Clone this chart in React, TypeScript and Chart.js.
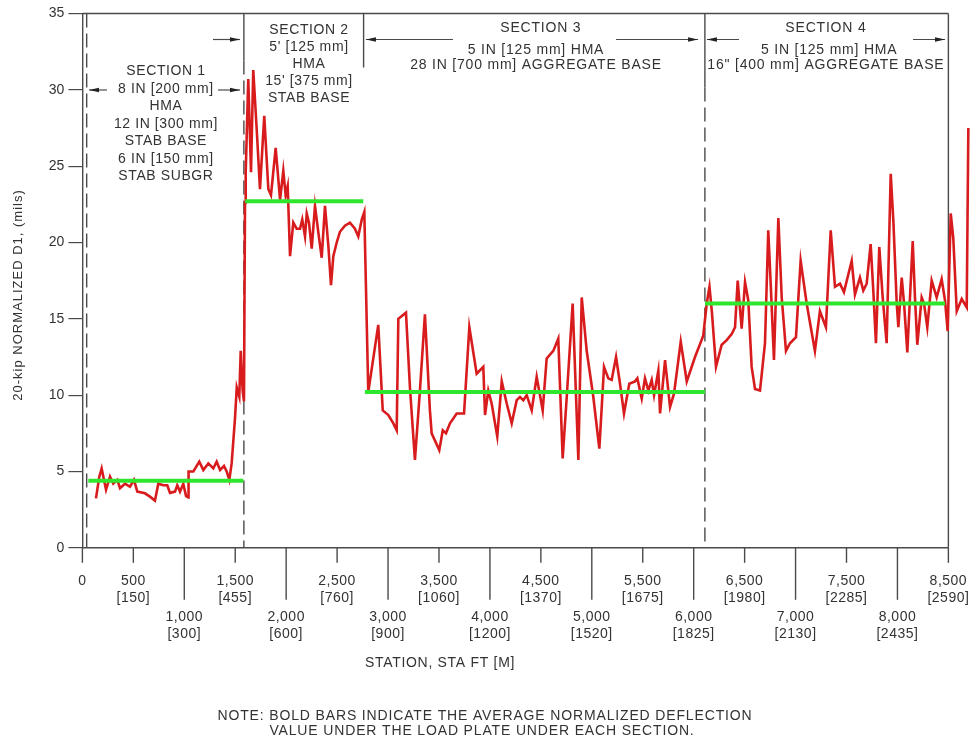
import React, { useEffect, useRef } from 'react';
import { Chart, registerables } from 'chart.js';

Chart.register(...registerables);

const FONT = '"Liberation Sans", Arial, Helvetica, sans-serif';

// FWD test stations (ft) and 20-kip normalized D1 deflections (mils)
const stationFt = [
  133, 166, 189, 232, 271, 303, 343, 369, 418, 467, 506, 539, 614, 663, 712, 745, 794, 833, 860, 909,
  931, 958, 990, 1017, 1039, 1042, 1089, 1147, 1187, 1236, 1285, 1318, 1351, 1390, 1416, 1442, 1465, 1498, 1515, 1540,
  1554, 1573, 1586,
  1596, 1603, 1628, 1655, 1677, 1711, 1743, 1785, 1825, 1851, 1897, 1940, 1972, 1995, 2015, 2038, 2070, 2103, 2136, 2158,
  2185, 2202, 2224, 2251, 2283, 2315, 2349, 2381, 2414, 2440, 2463, 2496, 2528, 2577, 2626, 2675, 2708, 2742, 2767, 2806,
  2904, 2948, 3003, 3052, 3085, 3101, 3176, 3215, 3264, 3313, 3362, 3411, 3428, 3503, 3537, 3569, 3608, 3674, 3746, 3798,
  3870, 3935, 3952, 3984, 4017, 4072, 4116, 4165, 4214, 4263, 4295, 4328, 4361, 4410, 4459, 4518, 4557, 4622, 4671, 4714,
  4754, 4812, 4868, 4901, 4950, 5015, 5074, 5120, 5162, 5195, 5238, 5277, 5316, 5368, 5424, 5447, 5490, 5522, 5555, 5588,
  5611, 5653, 5670, 5719, 5768, 5807, 5873, 5932, 6013, 6094, 6128, 6155,
  6178, 6219, 6275, 6324, 6373, 6406, 6432, 6471, 6504, 6536, 6569, 6602, 6651, 6700, 6732, 6756, 6788, 6831, 6864, 6906,
  6945, 7004, 7050, 7109, 7190, 7239, 7298, 7345, 7387, 7436, 7475, 7551, 7583, 7632, 7665, 7698, 7737, 7763, 7789, 7822,
  7855, 7894, 7934, 7960, 7993, 8009, 8042, 8065, 8097, 8150, 8172, 8195, 8238, 8261, 8293, 8336, 8385, 8434, 8467, 8493,
  8523, 8548, 8582, 8631, 8680, 8696,
];
const deflectionD1 = [
  3.24, 4.66, 5.2, 3.8, 4.66, 4.2, 4.45, 3.9, 4.2, 4.0, 4.45, 3.68, 3.57, 3.35, 3.09, 4.2, 4.1, 4.1, 3.6, 3.68,
  4.1, 3.68, 4.2, 3.4, 3.3, 5.0, 5.0, 5.64, 5.1, 5.53, 5.2, 5.64, 5.1, 5.36, 5.0, 4.45, 5.53, 8.5, 10.5, 9.9,
  12.9, 10.3, 9.6,
  22.6, 24.6, 30.7, 24.6, 31.3, 27.4, 23.5, 28.3, 23.5, 23.1, 26.2, 22.8, 24.7, 23.1, 23.7, 19.1, 21.3, 20.9, 20.9, 21.5,
  20.4, 21.9, 21.3, 19.6, 22.4, 20.7, 19.0, 22.4, 19.8, 17.2, 19.1, 20.0, 20.7, 21.1, 21.3, 20.9, 20.4, 21.5, 22.0, 10.2,
  14.6, 9.0, 8.7, 8.15, 7.7, 15.0, 15.4, 10.5, 5.75, 10.3, 15.3, 9.0, 7.5, 6.4, 7.7, 7.5, 8.15, 8.8, 8.8, 14.45,
  11.4, 11.85, 8.7, 10.3, 9.45, 7.3, 10.9, 9.45, 8.15, 9.67, 9.88, 9.67, 10.0, 9.0, 11.2, 9.0, 12.4, 12.9, 13.7, 5.86,
  9.88, 16.0, 5.75, 16.4, 12.9, 9.88, 6.5, 11.85, 11.1, 11.0, 12.5, 10.75, 8.8, 10.75, 10.9, 11.1, 9.78, 11.1, 10.3, 11.0,
  10.0, 11.6, 8.8, 12.3, 9.23, 10.1, 13.5, 10.9, 12.5, 13.9, 16.0, 17.1,
  15.5, 11.85, 13.3, 13.6, 14.0, 14.45, 17.5, 14.35, 17.4, 16.2, 11.85, 10.4, 10.3, 13.4, 20.8, 17.3, 12.3, 21.6, 16.4, 12.9,
  13.4, 13.8, 18.8, 16.0, 12.9, 15.5, 14.45, 20.8, 17.1, 17.3, 16.75, 18.8, 16.6, 17.7, 16.85, 17.3, 19.9, 16.85, 13.4, 19.7,
  16.4, 13.4, 24.5, 21.4, 16.0, 14.45, 17.7, 16.0, 12.8, 20.1, 16.4, 13.3, 16.4, 16.0, 14.45, 17.5, 16.4, 17.6, 16.2, 14.2,
  21.9, 20.3, 15.5, 16.3, 15.75, 27.5,
];

// Section averages (bold bars)
const sectionAverages = [4.4, 22.7, 10.2, 16.0];
const averageStartFt = [58, 1598, 2773, 6111];
const averageEndFt = [1580, 2757, 6111, 8467];

// Section boundaries (ft)
const sectionStartFt = 42;
const boundary12Ft = 1585;
const boundary23Ft = 2760;
const boundary34Ft = 6110;
const sectionEndFt = 8500;

// X axis tick labels
const xTickValues = [0, 500, 1000, 1500, 2000, 2500, 3000, 3500, 4000, 4500, 5000, 5500, 6000, 6500, 7000, 7500, 8000, 8500];
const xTickFt = ['0', '500', '1,000', '1,500', '2,000', '2,500', '3,000', '3,500', '4,000', '4,500', '5,000', '5,500', '6,000', '6,500', '7,000', '7,500', '8,000', '8,500'];
const xTickM = ['', '[150]', '[300]', '[455]', '[600]', '[760]', '[900]', '[1060]', '[1200]', '[1370]', '[1520]', '[1675]', '[1825]', '[1980]', '[2130]', '[2285]', '[2435]', '[2590]'];

const section1Text = ['SECTION 1', '8 IN [200 mm]', 'HMA', '12 IN [300 mm]', 'STAB BASE', '6 IN [150 mm]', 'STAB SUBGR'];
const section2Text = ['SECTION 2', "5' [125 mm]", 'HMA', "15' [375 mm]", 'STAB BASE'];
const section3Text = ['SECTION 3', '5 IN [125 mm] HMA', '28 IN [700 mm] AGGREGATE BASE'];
const section4Text = ['SECTION 4', '5 IN [125 mm] HMA', '16" [400 mm] AGGREGATE BASE'];

const yTitle = '20-kip NORMALIZED D1, (mils)';
const xTitle = 'STATION, STA FT [M]';
const noteLines = ['NOTE: BOLD BARS INDICATE THE AVERAGE NORMALIZED DEFLECTION', 'VALUE UNDER THE LOAD PLATE UNDER EACH SECTION.'];

const LINE = '#4a4a4a';
const TEXT = '#333333';

function arrow(ctx: CanvasRenderingContext2D, xTail: number, xTip: number, y: number) {
  ctx.beginPath();
  ctx.moveTo(xTail, y);
  ctx.lineTo(xTip, y);
  ctx.stroke();
  const dir = Math.sign(xTip - xTail);
  ctx.beginPath();
  ctx.moveTo(xTip, y);
  ctx.lineTo(xTip - dir * 10, y - 2.2);
  ctx.lineTo(xTip - dir * 10, y + 2.2);
  ctx.closePath();
  ctx.fill();
}

function vline(ctx: CanvasRenderingContext2D, x: number, y1: number, y2: number, dashed: boolean) {
  ctx.save();
  ctx.setLineDash(dashed ? [14, 6] : []);
  ctx.beginPath();
  ctx.moveTo(x, y1);
  ctx.lineTo(x, y2);
  ctx.stroke();
  ctx.restore();
}

function spaced(ctx: CanvasRenderingContext2D, px: number) {
  (ctx as any).letterSpacing = `${px}px`;
}

const overlay = {
  id: 'overlay',
  beforeDraw(chart: any) {
    const ctx = chart.ctx;
    ctx.save();
    ctx.fillStyle = '#ffffff';
    ctx.fillRect(0, 0, chart.width, chart.height);
    ctx.restore();
  },
  beforeDatasetsDraw(chart: any) {
    const ctx: CanvasRenderingContext2D = chart.ctx;
    const xs = chart.scales.x;
    const area = chart.chartArea;
    const top = area.top;
    const bottom = area.bottom;
    const px = (v: number) => xs.getPixelForValue(v);
    ctx.save();
    ctx.strokeStyle = LINE;
    ctx.lineWidth = 1.4;
    ctx.beginPath();
    ctx.moveTo(area.left, top);
    ctx.lineTo(px(sectionEndFt), top);
    ctx.stroke();
    vline(ctx, px(sectionStartFt), top, bottom, true);
    vline(ctx, px(boundary12Ft), top, top + 47, false);
    vline(ctx, px(boundary12Ft), top + 47, bottom, true);
    vline(ctx, px(boundary23Ft), top, top + 54, false);
    vline(ctx, px(boundary34Ft), top, top + 74, false);
    vline(ctx, px(boundary34Ft), top + 74, bottom, true);
    vline(ctx, px(sectionEndFt), top, bottom, false);
    ctx.restore();
  },
  afterDraw(chart: any) {
    const ctx: CanvasRenderingContext2D = chart.ctx;
    const xs = chart.scales.x;
    const area = chart.chartArea;
    const top = area.top;
    const bottom = area.bottom;
    const px = (v: number) => xs.getPixelForValue(v);
    ctx.save();
    ctx.strokeStyle = LINE;
    ctx.fillStyle = '#222';
    ctx.lineWidth = 1.2;

    const y1 = top + 76.5;
    arrow(ctx, px(241), px(65), y1);
    arrow(ctx, px(1331), px(1547), y1);
    const y2 = top + 26;
    arrow(ctx, px(1282), px(1547), y2);
    arrow(ctx, px(3637), px(2783), y2);
    arrow(ctx, px(5238), px(6043), y2);
    arrow(ctx, px(6445), px(6130), y2);
    arrow(ctx, px(8153), px(8467), y2);

    ctx.fillStyle = TEXT;
    ctx.font = `14px ${FONT}`;
    ctx.textAlign = 'center';
    ctx.textBaseline = 'middle';
    spaced(ctx, 0.6);
    section1Text.forEach((t, i) => ctx.fillText(t, px(820), top + 58 + i * 17.5));
    section2Text.forEach((t, i) => ctx.fillText(t, px(2224), top + 16.5 + i * 17));
    spaced(ctx, 0.8);
    ctx.fillText(section3Text[0], px(4500), top + 15);
    ctx.fillText(section3Text[1], px(4452), top + 36.5);
    ctx.fillText(section3Text[2], px(4452), top + 51.5);
    ctx.fillText(section4Text[0], px(7298), top + 15);
    ctx.fillText(section4Text[1], px(7330), top + 36.5);
    ctx.fillText(section4Text[2], px(7298), top + 51.5);

    ctx.strokeStyle = LINE;
    ctx.lineWidth = 1.4;
    ctx.beginPath();
    ctx.moveTo(area.left, bottom);
    ctx.lineTo(px(sectionEndFt), bottom);
    ctx.stroke();
    spaced(ctx, 0.5);
    xTickValues.forEach((v, i) => {
      const x = px(v);
      const upper = i % 2 === 1 || i === 0;
      ctx.beginPath();
      ctx.moveTo(x, bottom);
      ctx.lineTo(x, bottom + (upper ? 15 : 52));
      ctx.stroke();
      const ly = upper ? bottom + 33.5 : bottom + 69;
      ctx.fillText(xTickFt[i], x, ly);
      if (xTickM[i]) ctx.fillText(xTickM[i], x, ly + 17);
    });

    spaced(ctx, 0.7);
    ctx.fillText(xTitle, 440, 663);
    spaced(ctx, 0.85);
    ctx.fillText(noteLines[0], 485, 716);
    ctx.fillText(noteLines[1], 482, 731);

    ctx.save();
    ctx.translate(18, 295);
    ctx.rotate(-Math.PI / 2);
    ctx.font = `13px ${FONT}`;
    spaced(ctx, 1);
    ctx.fillText(yTitle, 0, 0);
    ctx.restore();
    ctx.restore();
  },
};

export default function App() {
  const ref = useRef<HTMLCanvasElement>(null);
  useEffect(() => {
    const canvas = ref.current;
    if (!canvas) return;
    Chart.defaults.font.family = FONT;
    const chart = new Chart(canvas, {
      type: 'line',
      data: {
        datasets: [
          ...sectionAverages.map((v, i) => ({
            data: [
              { x: averageStartFt[i], y: v },
              { x: averageEndFt[i], y: v },
            ],
            borderColor: '#2ee62e',
            borderWidth: 4,
            pointRadius: 0,
            borderCapStyle: 'butt' as const,
          })),
          {
            data: stationFt.map((x, i) => ({ x, y: deflectionD1[i] })),
            borderColor: '#d81c1e',
            borderWidth: 2.6,
            pointRadius: 0,
            tension: 0,
          },
        ],
      },
      options: {
        animation: false,
        responsive: false,
        events: [],
        layout: { padding: { left: 0, right: 0, top: 13.5, bottom: 192.2 } },
        plugins: { legend: { display: false }, tooltip: { enabled: false } },
        scales: {
          x: { type: 'linear', min: 0, max: 8722, display: false },
          y: {
            type: 'linear',
            min: 0,
            max: 35,
            ticks: { stepSize: 5, color: TEXT, font: { size: 14, family: FONT }, padding: 4 },
            grid: { drawOnChartArea: false, drawTicks: true, tickLength: 14, color: LINE, lineWidth: 1.2 },
            border: { display: true, color: LINE, width: 1.4 },
            afterFit(scale: any) {
              scale.width = 82.4;
            },
          },
        },
      },
      plugins: [overlay],
    } as any);
    return () => chart.destroy();
  }, []);
  return (
    <div style={{ position: 'absolute', left: 0, top: 0, width: 971, height: 740, background: '#fff' }}>
      <canvas ref={ref} width={971} height={740} style={{ display: 'block', width: 971, height: 740 }} />
    </div>
  );
}
